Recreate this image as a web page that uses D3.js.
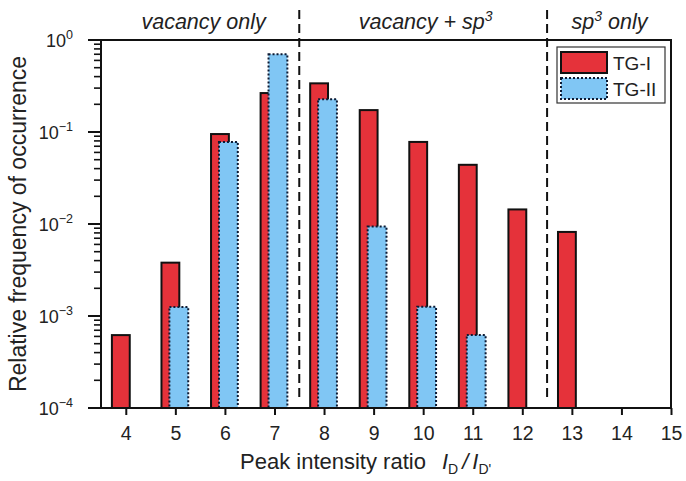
<!DOCTYPE html>
<html>
<head>
<meta charset="utf-8">
<script src="https://cdn.jsdelivr.net/npm/d3@7"></script>
<style>
body { margin: 0; background: #fff; }
text { font-family: "Liberation Sans", Arial, sans-serif; }
</style>
</head>
<body>
<svg width="686" height="481"></svg>
<script>
// ratio categories and frequencies
var ratios = [4, 5, 6, 7, 8, 9, 10, 11, 12, 13];
var tg1 = [6.2e-4, 3.8e-3, 0.095, 0.265, 0.338, 0.173, 0.078, 0.044, 0.0144, 0.0082];
var tg2 = [null, 1.25e-3, 0.078, 0.70, 0.227, 9.4e-3, 1.26e-3, 6.2e-4, null, null];
var xTicks = [4, 5, 6, 7, 8, 9, 10, 11, 12, 13, 14, 15];
var yTicks = [1, 0.1, 0.01, 0.001, 0.0001];
var yExp = ["0", "\u22121", "\u22122", "\u22123", "\u22124"];
var dividers = [7.5, 12.5];
var regions = [
  {x: 5.57, parts: [["vacancy only", null]]},
  {x: 10.05, parts: [["vacancy + sp", null], ["3", "sup"]]},
  {x: 13.76, parts: [["sp", null], ["3", "sup"], [" only", null]]}
];

var svg = d3.select("svg");
var margin = {left: 101, right: 671, top: 40, bottom: 408};

var x = d3.scaleLinear().domain([3.5, 15]).range([margin.left, margin.right]);
var y = d3.scaleLog().domain([1e-4, 1]).range([margin.bottom, margin.top]);

var red = "#e5323a", blue = "#80c6f4";

// bars
var g = svg.append("g");
ratios.forEach(function(r, i) {
  if (tg1[i] != null) {
    g.append("rect")
      .attr("x", x(r - 0.28)).attr("width", x(r + 0.08) - x(r - 0.28))
      .attr("y", y(tg1[i])).attr("height", y(1e-4) - y(tg1[i]))
      .attr("fill", red).attr("stroke", "#111").attr("stroke-width", 2);
  }
  if (tg2[i] != null) {
    g.append("rect")
      .attr("x", x(r - 0.12)).attr("width", x(r + 0.26) - x(r - 0.12))
      .attr("y", y(tg2[i])).attr("height", y(1e-4) - y(tg2[i]))
      .attr("fill", blue).attr("stroke", "#0d1a33").attr("stroke-width", 2)
      .attr("stroke-dasharray", "2,2");
  }
});

// frame
svg.append("rect")
  .attr("x", margin.left).attr("y", margin.top)
  .attr("width", margin.right - margin.left).attr("height", margin.bottom - margin.top)
  .attr("fill", "none").attr("stroke", "#111").attr("stroke-width", 2);

// x axis
var xAxis = svg.append("g").attr("transform", "translate(0," + margin.bottom + ")")
  .call(d3.axisBottom(x).tickValues(xTicks).tickSize(7).tickSizeOuter(0).tickFormat(d3.format("d")));
xAxis.select(".domain").remove();
xAxis.selectAll(".tick line").attr("stroke", "#111").attr("stroke-width", 2);
xAxis.selectAll(".tick text").attr("font-size", 19.5).attr("fill", "#222").attr("y", 18)
  .style("font-family", "'Liberation Sans', Arial, sans-serif");

// y axis: minor and major ticks
var yAxis = svg.append("g").attr("transform", "translate(" + margin.left + ",0)");
var minor = [];
for (var e = -4; e < 0; e++) {
  for (var m = 2; m <= 9; m++) minor.push(m * Math.pow(10, e));
}
yAxis.selectAll("line.minor").data(minor).enter().append("line")
  .attr("x1", -7).attr("x2", 0)
  .attr("y1", function(d) { return y(d); }).attr("y2", function(d) { return y(d); })
  .attr("stroke", "#111").attr("stroke-width", 1.6);
yAxis.selectAll("line.major").data(yTicks).enter().append("line")
  .attr("x1", -13).attr("x2", 0)
  .attr("y1", function(d) { return y(d); }).attr("y2", function(d) { return y(d); })
  .attr("stroke", "#111").attr("stroke-width", 2);
var yl = yAxis.selectAll("text.yl").data(yTicks).enter().append("text")
  .attr("x", -28).attr("y", function(d) { return y(d) + 7; })
  .attr("text-anchor", "end").attr("font-size", 18).attr("fill", "#222");
yl.append("tspan").text("10");
yl.append("tspan").attr("dy", -8).attr("font-size", 12.5)
  .text(function(d, i) { return yExp[i]; });

// divider lines
svg.selectAll("line.div").data(dividers).enter().append("line")
  .attr("x1", function(d) { return x(d); }).attr("x2", function(d) { return x(d); })
  .attr("y1", 10).attr("y2", 398)
  .attr("stroke", "#111").attr("stroke-width", 2).attr("stroke-dasharray", "9,5");

// region labels
regions.forEach(function(r) {
  var t = svg.append("text").attr("x", x(r.x)).attr("y", 29)
    .attr("text-anchor", "middle").attr("font-size", 21.5).attr("font-style", "italic").attr("fill", "#222");
  r.parts.forEach(function(p, k) {
    if (p[1] === "sup") {
      t.append("tspan").attr("dy", -8).attr("font-size", 14).text(p[0]);
    } else {
      var s = t.append("tspan").text(p[0]);
      if (k > 0) s.attr("dy", 8);
    }
  });
});

// legend
var lg = svg.append("g");
lg.append("rect").attr("x", 557).attr("y", 47).attr("width", 108).attr("height", 56)
  .attr("fill", "#fff").attr("stroke", "#333").attr("stroke-width", 1.2);
lg.append("rect").attr("x", 561).attr("y", 52).attr("width", 46).attr("height", 21)
  .attr("fill", red).attr("stroke", "#111").attr("stroke-width", 2);
lg.append("rect").attr("x", 561).attr("y", 78).attr("width", 46).attr("height", 21)
  .attr("fill", blue).attr("stroke", "#0d1a33").attr("stroke-width", 2).attr("stroke-dasharray", "2,2");
lg.append("text").attr("x", 613).attr("y", 70).attr("font-size", 19).attr("fill", "#222").text("TG-I");
lg.append("text").attr("x", 613).attr("y", 96).attr("font-size", 19).attr("fill", "#222").text("TG-II");

// axis titles
svg.append("text")
  .attr("transform", "translate(26," + ((margin.top + margin.bottom) / 2) + ") rotate(-90)")
  .attr("text-anchor", "middle").attr("font-size", 23).attr("fill", "#222")
  .text("Relative frequency of occurrence");

var xt = svg.append("text").attr("x", 240).attr("y", 469)
  .attr("font-size", 22).attr("fill", "#222");
xt.append("tspan").text("Peak intensity ratio");
xt.append("tspan").attr("dx", 16).attr("font-style", "italic").text("I");
xt.append("tspan").attr("dy", 5).attr("font-size", 14).text("D");
xt.append("tspan").attr("dy", -5).attr("dx", 4).attr("font-style", "italic").text("/");
xt.append("tspan").attr("dx", 4).attr("font-style", "italic").text("I");
xt.append("tspan").attr("dy", 5).attr("font-size", 14).text("D'");
</script>
</body>
</html>
